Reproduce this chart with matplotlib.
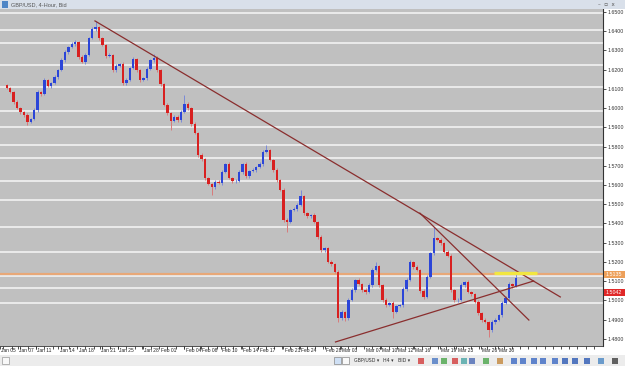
import numpy as np
import matplotlib.pyplot as plt
from matplotlib.patches import Rectangle
from matplotlib.transforms import blended_transform_factory

# GBP/USD 4-hour closes
closes = [
    1.6104, 1.6084, 1.6032, 1.6000, 1.5980, 1.5964, 1.5928, 1.5943, 1.5990, 1.6084,
    1.6073, 1.6146, 1.6115, 1.6130, 1.6162, 1.6198, 1.6250, 1.6292, 1.6318, 1.6333,
    1.6344, 1.6266, 1.6240, 1.6276, 1.6364, 1.6411, 1.6422, 1.6364, 1.6328, 1.6271,
    1.6276, 1.6198, 1.6219, 1.6229, 1.6130, 1.6146, 1.6208, 1.6255, 1.6198, 1.6146,
    1.6156, 1.6203, 1.6250, 1.6260, 1.6198, 1.6125, 1.6016, 1.5974, 1.5933, 1.5954,
    1.5938, 1.5980, 1.6021, 1.6000, 1.5917, 1.5871, 1.5756, 1.5735, 1.5636, 1.5605,
    1.5590, 1.5616, 1.5610, 1.5668, 1.5709, 1.5636, 1.5621, 1.5621, 1.5668, 1.5709,
    1.5647, 1.5673, 1.5678, 1.5694, 1.5709, 1.5772, 1.5782, 1.5730, 1.5678, 1.5626,
    1.5574, 1.5418, 1.5408, 1.5470, 1.5475, 1.5496, 1.5543, 1.5454, 1.5439, 1.5444,
    1.5408, 1.5330, 1.5262, 1.5272, 1.5200, 1.5189, 1.5148, 1.4908, 1.4940, 1.4908,
    1.5002, 1.5054, 1.5106, 1.5085, 1.5054, 1.5044, 1.5080, 1.5158, 1.5179, 1.5080,
    1.5002, 1.4976, 1.4986, 1.4940, 1.4971, 1.4976, 1.5059, 1.5106, 1.5200, 1.5174,
    1.5158, 1.5049, 1.5018, 1.5122, 1.5246, 1.5324, 1.5314, 1.5298, 1.5252, 1.5231,
    1.5054, 1.5002, 1.5002, 1.5080, 1.5096, 1.5044, 1.5033, 1.4992, 1.4934, 1.4898,
    1.4888, 1.4846, 1.4888, 1.4898, 1.4924, 1.4986, 1.5012, 1.5085, 1.5075, 1.5117,
]
first_open = 1.6120

# wick lengths in pips above / below the body
up_wick = [
    6, 8, 5, 10, 4, 7, 9, 6, 12, 8,
    5, 10, 7, 6, 9, 5, 11, 8, 6, 9,
    12, 6, 8, 10, 7, 9, 31, 6, 8, 5,
    10, 7, 12, 6, 8, 9, 5, 11, 7, 6,
    8, 10, 6, 21, 9, 5, 7, 8, 6, 10,
    9, 12, 47, 8, 6, 10, 7, 9, 5, 8,
    6, 10, 8, 12, 7, 9, 5, 8, 10, 6,
    9, 7, 11, 6, 8, 10, 26, 7, 5, 9,
    6, 8, 10, 7, 9, 12, 31, 6, 8, 7,
    9, 5, 11, 8, 6, 10, 7, 12, 9, 6,
    8, 10, 7, 9, 6, 11, 8, 10, 21, 7,
    6, 9, 8, 10, 7, 5, 9, 12, 8, 6,
    10, 7, 9, 11, 8, 58, 6, 10, 7, 9,
    8, 6, 10, 12, 7, 9, 6, 8, 10, 7,
    9, 6, 11, 8, 7, 10, 9, 12, 8, 31,
]
dn_wick = [
    7, 5, 9, 6, 10, 8, 16, 7, 5, 9,
    11, 6, 8, 10, 7, 9, 5, 8, 12, 6,
    8, 10, 6, 9, 7, 5, 8, 11, 6, 9,
    7, 12, 8, 6, 10, 9, 7, 5, 8, 11,
    6, 9, 7, 10, 8, 12, 6, 9, 47, 7,
    10, 8, 6, 9, 11, 7, 10, 8, 12, 6,
    42, 9, 7, 10, 8, 6, 11, 9, 7, 10,
    8, 12, 6, 9, 7, 10, 8, 6, 11, 9,
    7, 10, 52, 8, 6, 9, 7, 11, 8, 10,
    6, 9, 8, 12, 7, 10, 8, 20, 9, 14,
    8, 6, 10, 7, 9, 12, 6, 8, 7, 10,
    9, 11, 7, 32, 8, 6, 10, 9, 7, 12,
    6, 9, 11, 8, 7, 10, 6, 9, 8, 7,
    10, 12, 8, 6, 9, 7, 11, 8, 10, 9,
    7, 36, 8, 10, 6, 9, 7, 8, 11, 6,
]

# date labels along the time axis (bar position where each label starts)
date_labels = ["Jan 05", "Jan 07", "Jan 11", "Jan 14", "Jan 18", "Jan 21", "Jan 25",
               "Jan 28", "Feb 01", "Feb 04", "Feb 08", "Feb 10", "Feb 14", "Feb 17",
               "Feb 21", "Feb 24", "Feb 28", "Mar 03", "Mar 07", "Mar 10", "Mar 12",
               "Mar 16", "Mar 19", "Mar 23", "Mar 26", "Mar 30"]
date_pos = [-2.0, 3.2, 8.4, 15.1, 20.6, 27.2, 32.5, 39.7, 44.6, 51.9, 56.8, 62.6,
            68.7, 73.6, 80.9, 85.8, 93.0, 97.7, 104.6, 109.3, 114.2, 119.1, 126.7,
            131.6, 138.8, 143.8]

price_ticks = [1.48, 1.49, 1.50, 1.51, 1.52, 1.53, 1.54, 1.55, 1.56, 1.57, 1.58,
               1.59, 1.60, 1.61, 1.62, 1.63, 1.64, 1.65]

# white horizontal lines on the chart
h_lines = [1.6493, 1.6406, 1.6337, 1.6224, 1.6108, 1.5985, 1.5904, 1.5806, 1.5739,
           1.5621, 1.5522, 1.5380, 1.5253, 1.5127, 1.5064, 1.4985]

# trend lines: (bar, price) start and end
trend_lines = [
    ((25.8, 1.6453), (162.0, 1.5018)),
    ((120.9, 1.5454), (152.8, 1.4898)),
    ((96.2, 1.4784), (154.2, 1.5101)),
]
resistance = 1.5135
yellow_seg = ((142.6, 155.1), 1.5145)
bid_price = 1.5042

closes = np.array(closes)
opens = np.concatenate([[first_open], closes[:-1]])
highs = np.maximum(opens, closes) + np.array(up_wick) * 0.0001
lows = np.minimum(opens, closes) - np.array(dn_wick) * 0.0001
x = np.arange(len(closes))
bull = closes >= opens

W, H = 625, 366
fig = plt.figure(figsize=(W / 100, H / 100), dpi=100)
fig.patch.set_facecolor('white')

ax = fig.add_axes([0, 1 - 346 / H, 603 / W, (346 - 9) / H])
ax.set_facecolor('#c0c0c0')
ax.set_xlim(-0.29, 174.5)
ax.set_ylim(1.4763, 1.6515)

for h in h_lines:
    ax.axhline(h, color='#f2f2f2', lw=1.2, zorder=1)
ax.axhline(resistance, color='#e8a878', lw=1.6, zorder=1.5)

# candles
ax.vlines(x[bull], lows[bull], highs[bull], color='#7a8ad8', lw=0.7, zorder=2)
ax.vlines(x[~bull], lows[~bull], highs[~bull], color='#d87a7a', lw=0.7, zorder=2)
ax.bar(x[bull], closes[bull] - opens[bull], bottom=opens[bull], width=0.72,
       color='#2b45d8', lw=0, zorder=3)
ax.bar(x[~bull], closes[~bull] - opens[~bull], bottom=opens[~bull], width=0.72,
       color='#d82020', lw=0, zorder=3)

for (x0, y0), (x1, y1) in trend_lines:
    ax.plot([x0, x1], [y0, y1], color='#8a2e2e', lw=0.9, zorder=4)
ax.plot(yellow_seg[0], [yellow_seg[1]] * 2, color='#f2e640', lw=2.4, zorder=4,
        solid_capstyle='butt')

# right price axis
ax.yaxis.tick_right()
ax.set_yticks(price_ticks)
ax.set_yticklabels([f"{p:.4f}" for p in price_ticks])
ax.tick_params(axis='y', direction='out', length=2.5, width=0.6, pad=1,
               labelsize=3.8, labelcolor='#333333', color='#333333')
for lab in ax.get_yticklabels():
    lab.set_fontfamily('Liberation Sans')

ax.set_xticks(date_pos)
ax.set_xticklabels([])
ax.set_xticks(np.arange(-1.0, 174, 2.4), minor=True)
ax.tick_params(axis='x', which='both', direction='out', length=2.5, width=0.6,
               color='#333333')
trans = blended_transform_factory(ax.transData, fig.transFigure)
for lab, p in zip(date_labels, date_pos):
    ax.text(p + 0.4, 1 - 351 / H, lab, transform=trans, fontsize=3.5,
            family='Liberation Sans', color='#222222', ha='left', va='center',
            clip_on=False)

for s in ['top', 'left']:
    ax.spines[s].set_visible(False)
ax.spines['right'].set_color('#333333')
ax.spines['right'].set_linewidth(0.8)
ax.spines['bottom'].set_color('#333333')
ax.spines['bottom'].set_linewidth(0.6)

# price boxes
trans_y = blended_transform_factory(fig.transFigure, ax.transData)
for price, bg in [(resistance, '#eda05a'), (bid_price, '#e02828')]:
    fig.patches.append(Rectangle((604 / W, price - 0.0018), 21 / W, 0.0036,
                                 transform=trans_y, facecolor=bg, lw=0, zorder=5))
    fig.text(606 / W, price, f"{price:.4f}", transform=trans_y, fontsize=3.8,
             family='Liberation Sans', color='white', va='center', ha='left', zorder=6)

# window title bar
fig.patches.append(Rectangle((0, 1 - 9 / H), 1, 9 / H, transform=fig.transFigure,
                             facecolor='#d9e0ea', lw=0))
fig.patches.append(Rectangle((2 / W, 1 - 7.5 / H), 6 / W, 6 / H, transform=fig.transFigure,
                             facecolor='#4f86c6', lw=0))
fig.text(11 / W, 1 - 4.5 / H, "GBP/USD, 4-Hour, Bid", fontsize=4.0,
         family='Liberation Sans', color='#555555', va='center')
fig.text(598 / W, 1 - 4.5 / H, "\u2013  \u25ab  x", fontsize=4.0,
         family='DejaVu Sans', color='#555555', va='center')

# bottom toolbar
fig.patches.append(Rectangle((0, 0), 1, 11 / H, transform=fig.transFigure,
                             facecolor='#ececec', lw=0))
fig.patches.append(Rectangle((2 / W, 2 / H), 7 / W, 7 / H, transform=fig.transFigure,
                             facecolor='#f8f8f8', edgecolor='#999999', lw=0.5))
for bx, col in [(334, '#cfe0f5'), (342, '#f8f8f8')]:
    fig.patches.append(Rectangle((bx / W, 2 / H), 7 / W, 7 / H, transform=fig.transFigure,
                                 facecolor=col, edgecolor='#888888', lw=0.5))
for tx, t in [(354, "GBP/USD \u25be"), (383, "H4 \u25be"), (398, "BID \u25be")]:
    fig.text(tx / W, 5.5 / H, t, fontsize=3.4, family='DejaVu Sans', color='#333333',
             va='center')
icon_x = [418, 432, 441, 452, 461, 469, 483, 497, 511, 520, 531, 540, 552, 562, 572,
          584, 598, 612]
icon_c = ['#d03030', '#4070c0', '#40a040', '#d03030', '#40a0a0', '#4060b0', '#40a040',
          '#c08030', '#3060c0', '#3060c0', '#3060c0', '#3060c0', '#3060c0', '#2050b0',
          '#2050b0', '#2050b0', '#4080c0', '#333333']
for bx, col in zip(icon_x, icon_c):
    fig.patches.append(Rectangle((bx / W, 2.5 / H), 6 / W, 6 / H, transform=fig.transFigure,
                                 facecolor=col, lw=0, alpha=0.75))

fig.savefig('out.png', dpi=100, facecolor=fig.get_facecolor())
